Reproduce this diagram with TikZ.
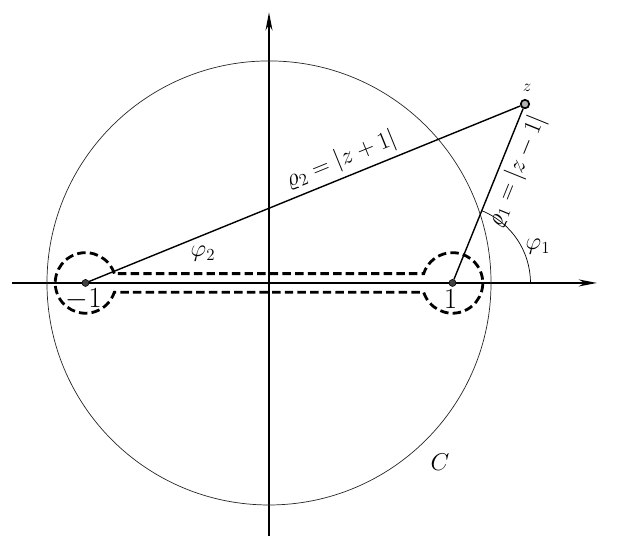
\documentclass[tikz,border=0pt]{standalone}
\usepackage{amsmath,amssymb}
\usepackage{tikz}
\usetikzlibrary{arrows.meta,calc}

\tikzset{
  axis/.style={line width=1pt, -{Stealth[length=13pt,width=5pt]}},
  radiusline/.style={line width=1pt},
  contour/.style={line width=2pt, dash pattern=on 6pt off 3pt},
  dot/.style={circle, fill=black!75, draw=black, inner sep=0pt, minimum size=5pt}
}

\begin{document}
\begin{tikzpicture}[x=4.5875cm, y=4.5875cm, every node/.style={font=\LARGE}]
  \useasboundingbox (-1.466,-1.379) rectangle (1.902,1.542);
  % Axis ends
  \coordinate (xl) at (-1.40,0);
  \coordinate (xr) at (1.787,0);
  \coordinate (yb) at (0,-1.379);
  \coordinate (yt) at (0,1.475);
  \draw[axis] (xl) -- (xr);
  \draw[axis] (yb) -- (yt);

  % Circle C
  \draw[line width=0.5pt, black!85] (0,0) circle[radius=1.21];
  \node (C) at (0.932,-0.975) {$C$};

  % Branch points and z
  \node[dot] (m1) at (-1,0) {};
  \node[dot] (p1) at (1,0) {};
  \node[dot, minimum size=6pt, fill=black!30, line width=1.2pt] (z) at (1.395,0.975) {};

  % Keyhole contour
  \draw[contour] ($(m1.center)+(18:0.165)$) arc[start angle=18, end angle=342, radius=0.165]
    -- ($(p1.center)+(198:0.165)$) arc[start angle=198, end angle=522, radius=0.165] -- cycle;

  % Distances to z
  \draw[radiusline] (m1) -- (z) node[pos=0.6, above, sloped] {$\varrho_2=|z+1|$};
  \draw[radiusline] (p1) -- (z) node[pos=0.67, below, sloped] {$\varrho_1=|z-1|$};
  \draw[line width=0.5pt] ($(p1.center)+(0.425,0)$) arc[start angle=0, end angle=67.9, radius=0.425];

  % Labels
  \node (phi2) at (-0.36,0.16) {$\varphi_2$};
  \node (phi1) at (1.466,0.196) {$\varphi_1$};
  \node[font=\huge] (lm1) at (-1.01,-0.09) {$-1$};
  \node[font=\huge] (lp1) at (0.99,-0.09) {$1$};
  \node[font=\large] (lz) at (1.406,1.063) {$z$};
\end{tikzpicture}
\end{document}
